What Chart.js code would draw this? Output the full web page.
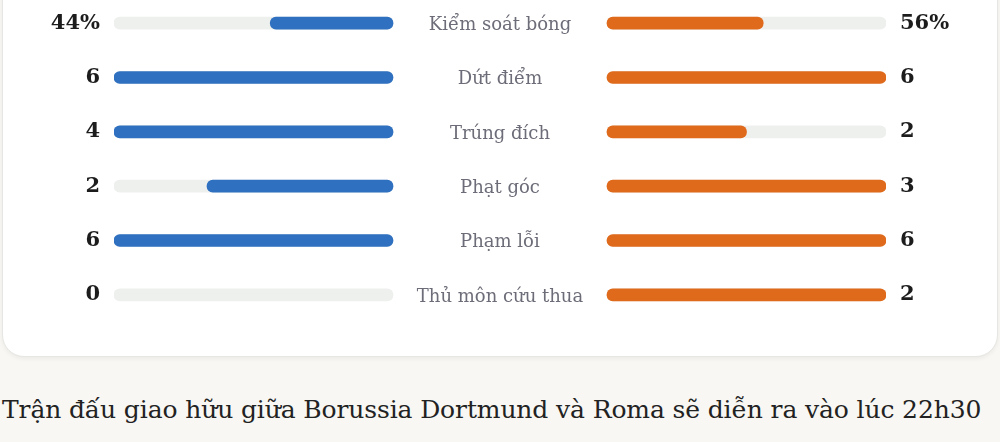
<!DOCTYPE html>
<html lang="vi">
<head>
<meta charset="utf-8">
<script src="https://cdn.jsdelivr.net/npm/chart.js@4.4.1/dist/chart.umd.min.js"></script>
<style>
  html, body { margin: 0; padding: 0; }
  body {
    width: 1000px; height: 442px; overflow: hidden; position: relative;
    background: #f8f7f3;
    font-family: "DejaVu Serif", serif;
  }
  .card {
    position: absolute; left: 2px; top: -24px; width: 994px; height: 379px;
    background: #fff; border: 1px solid #e6e6e3; border-radius: 22px;
    box-shadow: 0 2px 4px rgba(0,0,0,0.05);
  }
  .plot { position: absolute; left: 0; top: -4px; width: 1000px; height: 326px; }
  .caption {
    position: absolute; left: 2px; top: 395px; margin: 0;
    font-size: 25px; color: #222; white-space: nowrap; letter-spacing: -0.12px;
  }
</style>
</head>
<body>
<div class="card"></div>
<div class="plot"><canvas id="stats"></canvas></div>
<p class="caption">Trận đấu giao hữu giữa Borussia Dortmund và Roma sẽ diễn ra vào lúc 22h30</p>

<script>
  "use strict";

  // ── Data ─────────────────────────────────────────────────────
  const categories = ["Kiểm soát bóng", "Dứt điểm", "Trúng đích", "Phạt góc", "Phạm lỗi", "Thủ môn cứu thua"];
  const homeValues = [44, 6, 4, 2, 6, 0];   // Borussia Dortmund
  const awayValues = [56, 6, 2, 3, 6, 2];   // Roma
  const units      = ["%", "", "", "", "", ""];

  const blue   = "#2f70c0";
  const orange = "#e06a1c";
  const track  = "#eef0ee";
  const label  = "#6c6d78";
  const ink    = "#1c1c1c";

  // Bars are one unit long; the centre gap holds the stat names.
  const HALF_GAP = 0.3835;
  const share = (i, v) => {
    const h = homeValues[i], a = awayValues[i];
    const den = units[i] === "%" ? h + a : Math.max(h, a);
    return den ? v / den : 0;
  };
  const fmt = (i, v) => v + units[i];
  // zero values get no bar at all (avoids a hairline cap)
  const span = (from, len) => (len > 0 ? [from, from + len] : null);

  const leftTrack  = categories.map(() => [-HALF_GAP - 1, -HALF_GAP]);
  const rightTrack = categories.map(() => [HALF_GAP, HALF_GAP + 1]);
  const leftFill   = homeValues.map((v, i) => span(-HALF_GAP - share(i, v), share(i, v)));
  const rightFill  = awayValues.map((v, i) => span(HALF_GAP, share(i, v)));

  const bar = (data, color, order) => ({
    data,
    backgroundColor: color,
    borderWidth: 0,
    borderRadius: 6,
    borderSkipped: false,
    barThickness: 12,
    grouped: false,
    order,
  });

  // Stat names, centred in the gap between the two bars.
  const centreLabels = {
    id: "centreLabels",
    afterDatasetsDraw(chart) {
      const { ctx, scales } = chart;
      const x = scales.x.getPixelForValue(0);
      ctx.save();
      ctx.font = "18px 'DejaVu Serif', serif";
      ctx.fillStyle = label;
      ctx.textAlign = "center";
      ctx.textBaseline = "middle";
      categories.forEach((c, i) => ctx.fillText(c, x, scales.y.getPixelForValue(i) + 2));
      ctx.restore();
    },
  };

  const fixWidth = (s) => {
    s.width = 114;
    s.paddingTop = 0;
    s.paddingBottom = 0;
  };

  const numberTicks = (values) => ({
    color: ink,
    padding: 14,
    font: { family: "'DejaVu Serif', serif", size: 21, weight: "bold" },
    callback: (_, i) => fmt(i, values[i]),
  });

  new Chart(document.getElementById("stats"), {
    type: "bar",
    data: {
      labels: categories,
      datasets: [
        bar(leftFill,  blue,   1),
        bar(rightFill, orange, 1),
        bar(leftTrack,  track, 2),
        bar(rightTrack, track, 2),
      ],
    },
    plugins: [centreLabels],
    options: {
      indexAxis: "y",
      responsive: true,
      maintainAspectRatio: false,
      animation: false,
      layout: { padding: 0 },
      plugins: { legend: { display: false }, tooltip: { enabled: false } },
      scales: {
        x: {
          display: false,
          min: -HALF_GAP - 1,
          max: HALF_GAP + 1,
        },
        y: {
          position: "left",
          grid: { display: false, drawTicks: false },
          border: { display: false },
          ticks: numberTicks(homeValues),
          afterFit: fixWidth,
        },
        y2: {
          type: "category",
          position: "right",
          labels: categories,
          offset: true,
          grid: { display: false, drawTicks: false },
          border: { display: false },
          ticks: numberTicks(awayValues),
          afterFit: fixWidth,
        },
      },
    },
  });
</script>
</body>
</html>
